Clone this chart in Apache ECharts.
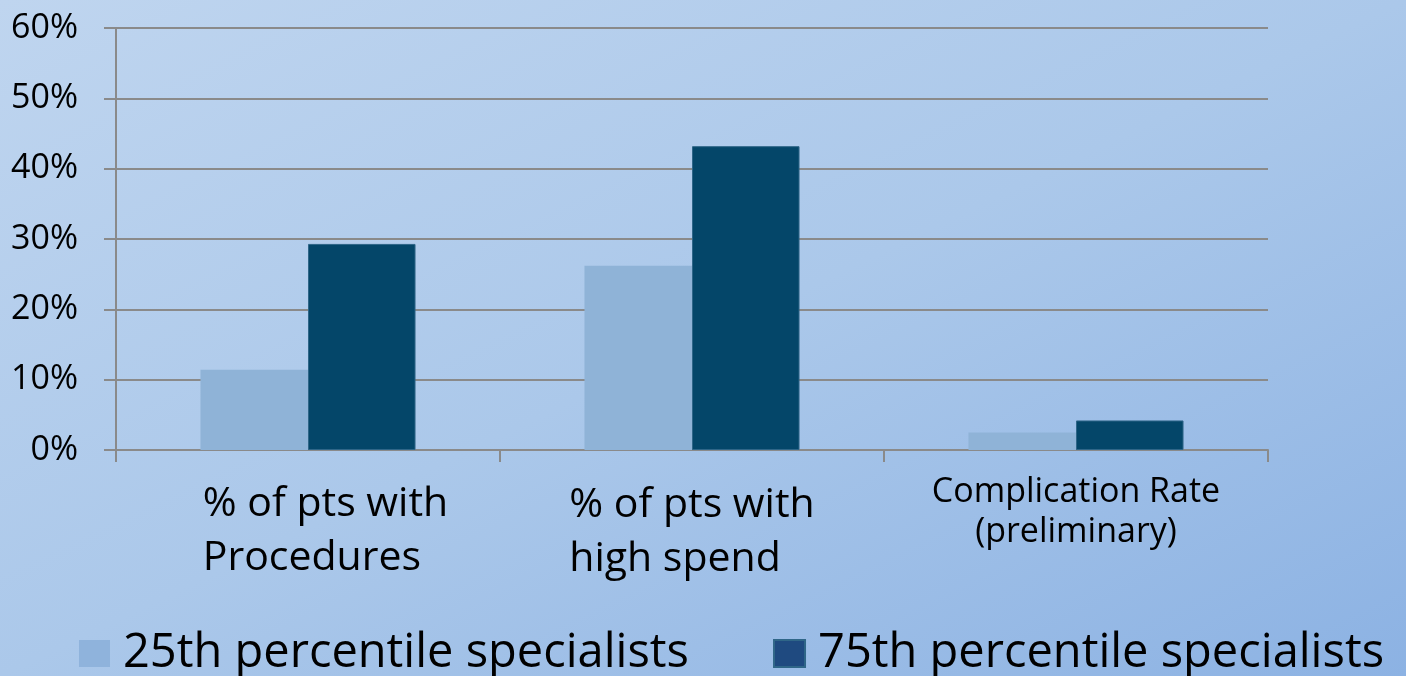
<!DOCTYPE html>
<html>
<head>
<meta charset="utf-8">
<style>
  html, body { margin: 0; padding: 0; }
  body {
    width: 1406px; height: 676px; overflow: hidden;
    background: linear-gradient(to bottom right, #bfd5ef 0%, #abc8ea 50%, #8cb2e3 100%);
  }
  #chart { width: 1406px; height: 676px; }
</style>
<script src="https://cdn.jsdelivr.net/npm/echarts@6/dist/echarts.min.js"></script>
</head>
<body>
<div id="chart"></div>
<script>
// Share of patients by specialist percentile group
const categories = ['% of pts with\nProcedures', '% of pts with\nhigh spend', 'Complication Rate\n(preliminary)'];
const seriesNames = ['25th percentile specialists', '75th percentile specialists'];
const p25Values = [11.4, 26.2, 2.5];
const p75Values = [29.3, 43.2, 4.2];
const yTicks = { min: 0, max: 60, interval: 10 };

const FONT = '"Open Sans", "Noto Sans", sans-serif';
const GRID_GREY = '#8a8a8a';

// each category label gets its own rich style (alignment / offset)
const labelStyleKeys = ['a', 'b', 'c'];

const chart = echarts.init(document.getElementById('chart'), null, { renderer: 'canvas' });

chart.setOption({
  backgroundColor: 'transparent',
  animation: false,
  grid: { left: 116, right: 138, top: 28, bottom: 226, containLabel: false },
  legend: {
    left: 74,
    top: 625,
    itemWidth: 31,
    itemHeight: 27,
    itemGap: 84,
    icon: 'rect',
    textStyle: {
      fontFamily: FONT,
      fontSize: 47,
      color: '#000',
      padding: [0, 0, 14, 8]
    },
    data: [
      { name: seriesNames[0], itemStyle: { color: '#8fb3dc' } },
      { name: seriesNames[1], itemStyle: { color: '#1f4a80' } }
    ]
  },
  xAxis: {
    type: 'category',
    data: categories,
    axisLine: { show: true, lineStyle: { color: GRID_GREY, width: 2 } },
    axisTick: { show: true, length: 12, lineStyle: { color: GRID_GREY, width: 2 } },
    axisLabel: {
      margin: 22,
      interval: 0,
      formatter: function (value, idx) {
        const key = labelStyleKeys[idx];
        return value.split('\n').map(function (line) { return '{' + key + '|' + line + '}'; }).join('\n');
      },
      rich: {
        a: { fontFamily: FONT, fontSize: 41, lineHeight: 54, color: '#000', align: 'left', padding: [10, 0, 0, 35] },
        b: { fontFamily: FONT, fontSize: 41, lineHeight: 54, color: '#000', align: 'left', padding: [12, 0, 0, 0] },
        c: { fontFamily: FONT, fontSize: 34, lineHeight: 40, color: '#000', align: 'center' }
      }
    }
  },
  yAxis: {
    type: 'value',
    min: yTicks.min,
    max: yTicks.max,
    interval: yTicks.interval,
    axisLine: { show: true, lineStyle: { color: GRID_GREY, width: 2 } },
    axisTick: { show: true, length: 12, lineStyle: { color: GRID_GREY, width: 2 } },
    splitLine: { show: true, lineStyle: { color: GRID_GREY, width: 2 } },
    axisLabel: {
      margin: 38,
      formatter: '{value}%',
      fontFamily: FONT,
      fontSize: 34,
      color: '#000'
    }
  },
  series: [
    {
      name: seriesNames[0],
      type: 'bar',
      data: p25Values,
      barGap: '0%',
      barCategoryGap: '44%',
      itemStyle: { color: '#8fb3d7' }
    },
    {
      name: seriesNames[1],
      type: 'bar',
      data: p75Values,
      barGap: '0%',
      barCategoryGap: '44%',
      itemStyle: { color: '#044669', borderColor: '#2f6688', borderWidth: 1 }
    }
  ]
});
</script>
</body>
</html>
